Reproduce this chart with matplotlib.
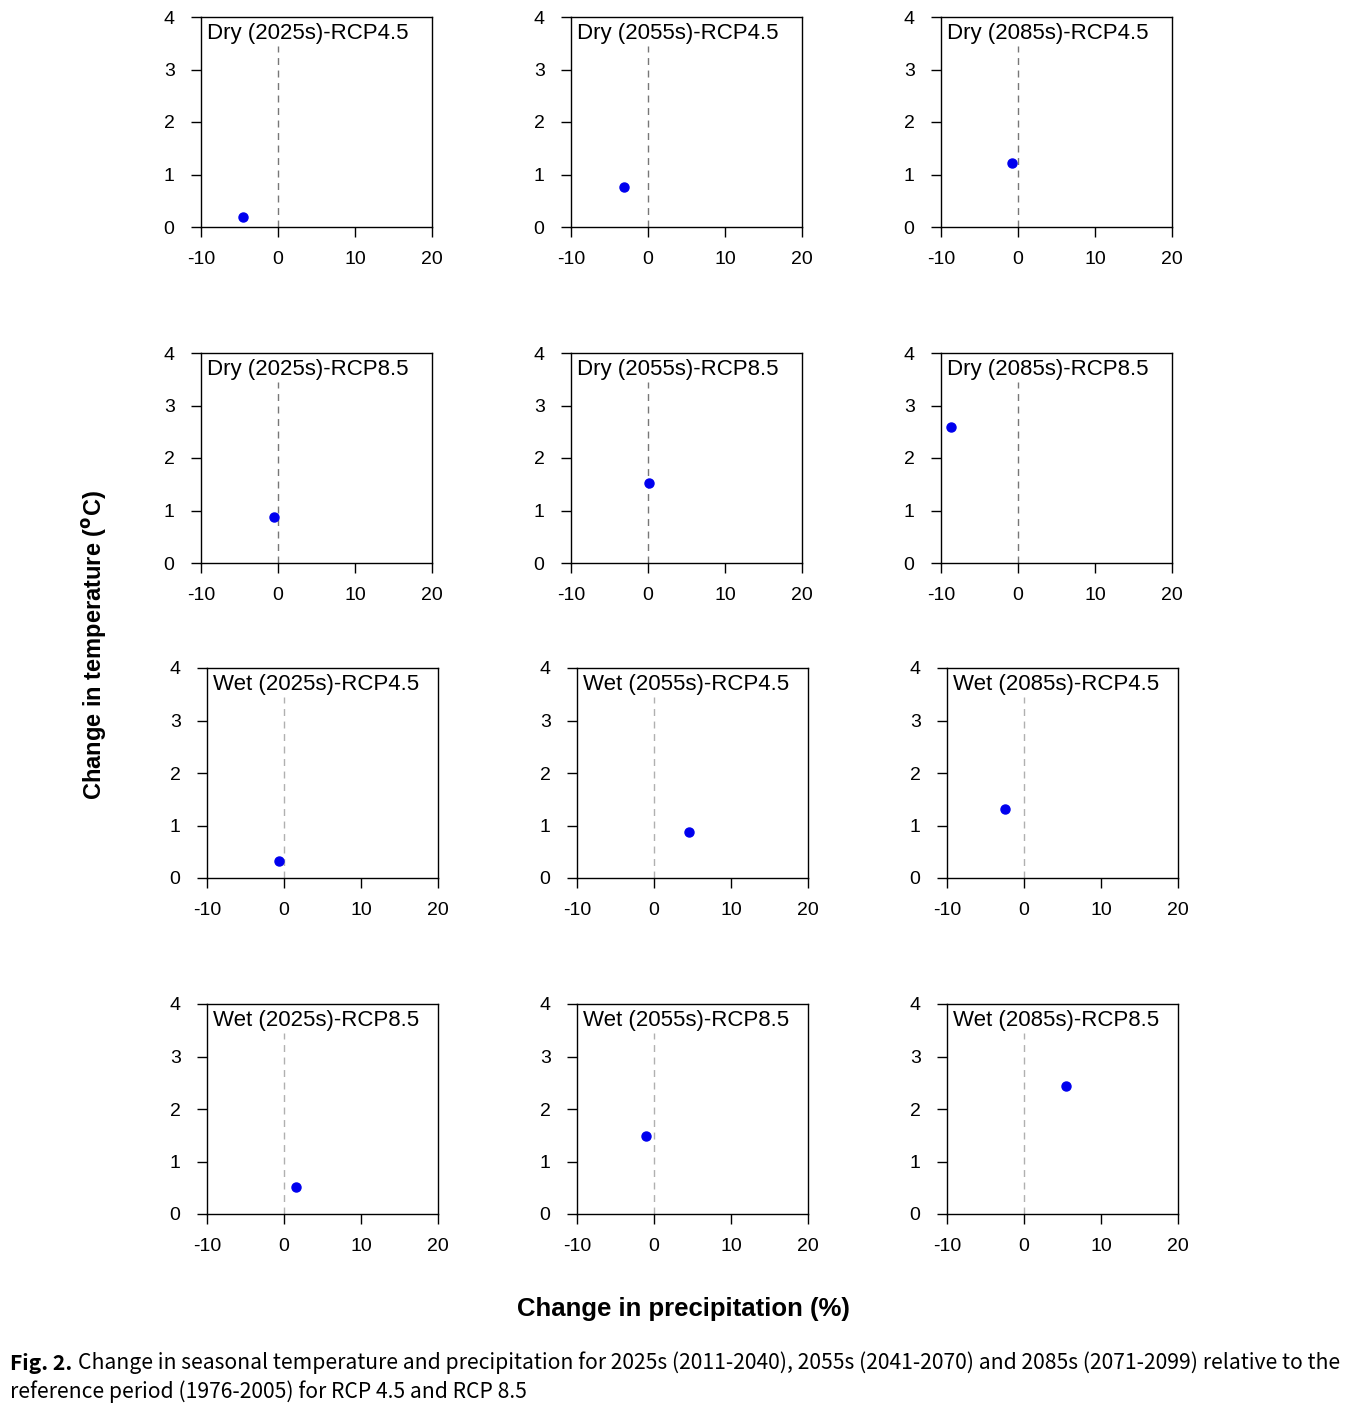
import matplotlib
matplotlib.use('Agg')
import matplotlib.pyplot as plt

plt.rcParams['font.family'] = ['Liberation Sans', 'DejaVu Sans']
plt.rcParams['axes.unicode_minus'] = False

# panel labels and values
titles = ['Dry (2025s)-RCP4.5', 'Dry (2055s)-RCP4.5', 'Dry (2085s)-RCP4.5',
          'Dry (2025s)-RCP8.5', 'Dry (2055s)-RCP8.5', 'Dry (2085s)-RCP8.5',
          'Wet (2025s)-RCP4.5', 'Wet (2055s)-RCP4.5', 'Wet (2085s)-RCP4.5',
          'Wet (2025s)-RCP8.5', 'Wet (2055s)-RCP8.5', 'Wet (2085s)-RCP8.5']
precip = [-4.6, -3.1, -0.8,
          -0.5, 0.1, -8.7,
          -0.6, 4.5, -2.5,
          1.6, -1.0, 5.5]
temp = [0.20, 0.76, 1.22,
        0.87, 1.52, 2.60,
        0.32, 0.88, 1.31,
        0.51, 1.49, 2.44]
x_ticks = [-10, 0, 10, 20]
y_ticks = [0, 1, 2, 3, 4]

W, H = 1356, 1409
fig = plt.figure(figsize=(W / 100, H / 100), dpi=100)

# axes boxes in pixels: (left, top) per row / column
row_tops = [17, 353, 668, 1004]
col_lefts = [[201, 571, 941], [201, 571, 941], [207, 577, 947], [207, 577, 947]]
aw, ah = 231, 210

for i in range(12):
    r, c = divmod(i, 3)
    left = col_lefts[r][c]
    top = row_tops[r]
    ax = fig.add_axes([left / W, 1 - (top + ah) / H, aw / W, ah / H])
    ax.set_xlim(-10, 20)
    ax.set_ylim(0, 4)
    ax.set_xticks(x_ticks)
    ax.set_yticks(y_ticks)
    ax.tick_params(direction='out', length=7, width=1, labelsize=14, pad=10)
    ax.tick_params(axis='y', pad=12)
    for s in ax.spines.values():
        s.set_linewidth(1)
    dash_col = '#777777' if r < 2 else '#b0b0b0'
    ax.vlines(0, 0, 3.45, colors=dash_col, linestyles=(0, (5, 4)), linewidth=1)
    ax.plot(precip[i], temp[i], 'o', color='#0000ee', markersize=6.5)
    ax.text(-9.2, 3.69, titles[i], fontsize=16, ha='left', va='center')

fig.text(95 / W, 1 - 645 / H, r'Change in temperature ($^{\mathbf{o}}$C)',
         rotation=90, ha='center', va='center', fontsize=17, fontweight='bold')
fig.text(683 / W, 1 - 1309 / H, 'Change in precipitation (%)',
         ha='center', va='center', fontsize=18.5, fontweight='bold')

# caption
cap_font = ['Noto Sans CJK KR', 'DejaVu Sans']
t1 = fig.text(10 / W, 1 - 1363 / H, 'Fig. 2.', family=cap_font, fontweight='bold',
              fontsize=15.2, ha='left', va='center')
renderer = fig.canvas.get_renderer()
bb = t1.get_window_extent(renderer)
fig.text((bb.x1 + 6) / W, 1 - 1363 / H,
         'Change in seasonal temperature and precipitation for 2025s (2011-2040), '
         '2055s (2041-2070) and 2085s (2071-2099) relative to the',
         family=cap_font, fontsize=15.2, ha='left', va='center')
fig.text(10 / W, 1 - 1392 / H,
         'reference period (1976-2005) for RCP 4.5 and RCP 8.5',
         family=cap_font, fontsize=15.2, ha='left', va='center')

fig.savefig('out.png', dpi=100)
